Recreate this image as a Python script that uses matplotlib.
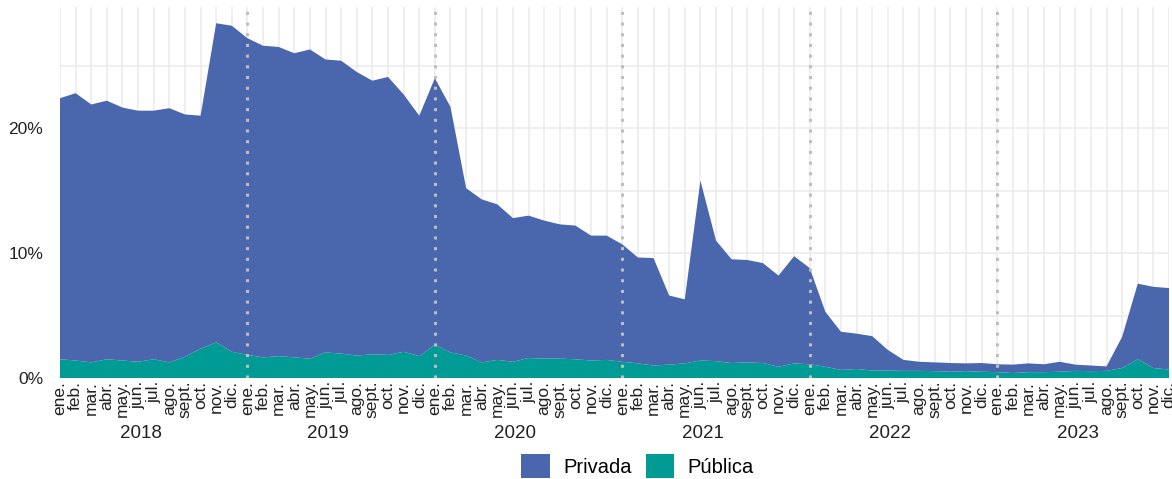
import matplotlib
matplotlib.use("Agg")
import matplotlib.pyplot as plt
from matplotlib.patches import Patch
from matplotlib.ticker import FixedLocator, FuncFormatter
import matplotlib.transforms as mtransforms
import numpy as np

plt.rcParams['font.family'] = ['Liberation Sans', 'DejaVu Sans']

months = ['ene.', 'feb.', 'mar.', 'abr.', 'may.', 'jun.', 'jul.', 'ago.',
          'sept.', 'oct.', 'nov.', 'dic.']
years = [2018, 2019, 2020, 2021, 2022, 2023]

# total share (top of the stack), % per month, ene. 2018 .. dic. 2023
total = [22.4, 22.8, 21.9, 22.2, 21.65, 21.4, 21.4, 21.6, 21.1, 21.0, 28.4, 28.2,
         27.2, 26.6, 26.5, 26.0, 26.3, 25.5, 25.4, 24.5, 23.8, 24.1, 22.7, 21.0,
         24.0, 21.7, 15.2, 14.3, 13.9, 12.8, 13.0, 12.6, 12.3, 12.2, 11.4, 11.4,
         10.7, 9.65, 9.6, 6.6, 6.3, 15.8, 11.0, 9.5, 9.45, 9.2, 8.2, 9.75,
         8.8, 5.3, 3.7, 3.55, 3.35, 2.25, 1.45, 1.3, 1.25, 1.2, 1.17, 1.2,
         1.1, 1.07, 1.17, 1.1, 1.3, 1.07, 1.0, 0.93, 3.3, 7.55, 7.3, 7.2]

publica = [1.5, 1.4, 1.25, 1.5, 1.4, 1.3, 1.5, 1.25, 1.7, 2.35, 2.85, 2.1,
           1.85, 1.65, 1.75, 1.65, 1.55, 2.05, 1.95, 1.8, 1.9, 1.85, 2.1, 1.75,
           2.65, 2.05, 1.8, 1.25, 1.45, 1.3, 1.6, 1.55, 1.55, 1.5, 1.4, 1.45,
           1.3, 1.17, 1.0, 1.07, 1.17, 1.4, 1.35, 1.2, 1.25, 1.2, 0.9, 1.17,
           1.1, 0.9, 0.65, 0.72, 0.6, 0.6, 0.57, 0.57, 0.55, 0.5, 0.55, 0.5,
           0.47, 0.4, 0.47, 0.47, 0.5, 0.57, 0.55, 0.57, 0.8, 1.5, 0.8, 0.68]

privada = [t - p for t, p in zip(total, publica)]

blue = '#4A66AC'
teal = '#009B95'
grid_c = '#EBEBEB'
text_c = '#222222'

x = np.arange(len(total))
month_labels = [months[i % 12] for i in range(len(total))]

fig = plt.figure(figsize=(11.72, 4.79), dpi=100)
ax = fig.add_axes([60 / 1172, 1 - 378 / 479, (1169 - 60) / 1172, (378 - 7) / 479])

ax.stackplot(x, publica, privada, colors=[teal, blue], linewidth=0, zorder=2)

# year separators
for k in range(1, len(years)):
    ax.axvline(12 * k, color='#BEBEBE', linestyle=(0, (1, 2.5)), linewidth=2.2, zorder=3)

ax.set_xlim(0, len(total) - 1)
ax.set_ylim(0, 29.7)
ax.set_xticks(x)
ax.set_xticklabels(month_labels, rotation=90, fontsize=12.5, color=text_c)
ax.yaxis.set_major_locator(FixedLocator([0, 10, 20]))
ax.yaxis.set_minor_locator(FixedLocator([5, 15, 25]))
ax.yaxis.set_major_formatter(FuncFormatter(lambda v, p: f'{v:.0f}%'))
ax.tick_params(axis='y', labelsize=12.5, colors=text_c, length=0, pad=12)
ax.tick_params(axis='y', which='minor', length=0)
ax.tick_params(axis='x', length=0, pad=2)

ax.grid(True, which='major', color=grid_c, linewidth=1.1, zorder=0)
ax.grid(True, which='minor', axis='y', color=grid_c, linewidth=1.1, zorder=0)
ax.set_axisbelow(True)
for s in ax.spines.values():
    s.set_visible(False)

trans = mtransforms.blended_transform_factory(ax.transData, fig.transFigure)
for k, yr in enumerate(years):
    ax.text(12 * k + 5.15, 1 - 433 / 479, str(yr), transform=trans, ha='center',
            va='center', fontsize=13.5, color=text_c)

handles = [Patch(facecolor=blue, label='Privada'), Patch(facecolor=teal, label='Pública')]
fig.legend(handles=handles, loc='center', bbox_to_anchor=(637.5 / 1172, 1 - 466 / 479), ncol=2,
           frameon=False, fontsize=14.5, handlelength=1.42, handleheight=1.42,
           handletextpad=0.65, columnspacing=0.7, borderpad=0)

fig.savefig('out.png', dpi=100)
